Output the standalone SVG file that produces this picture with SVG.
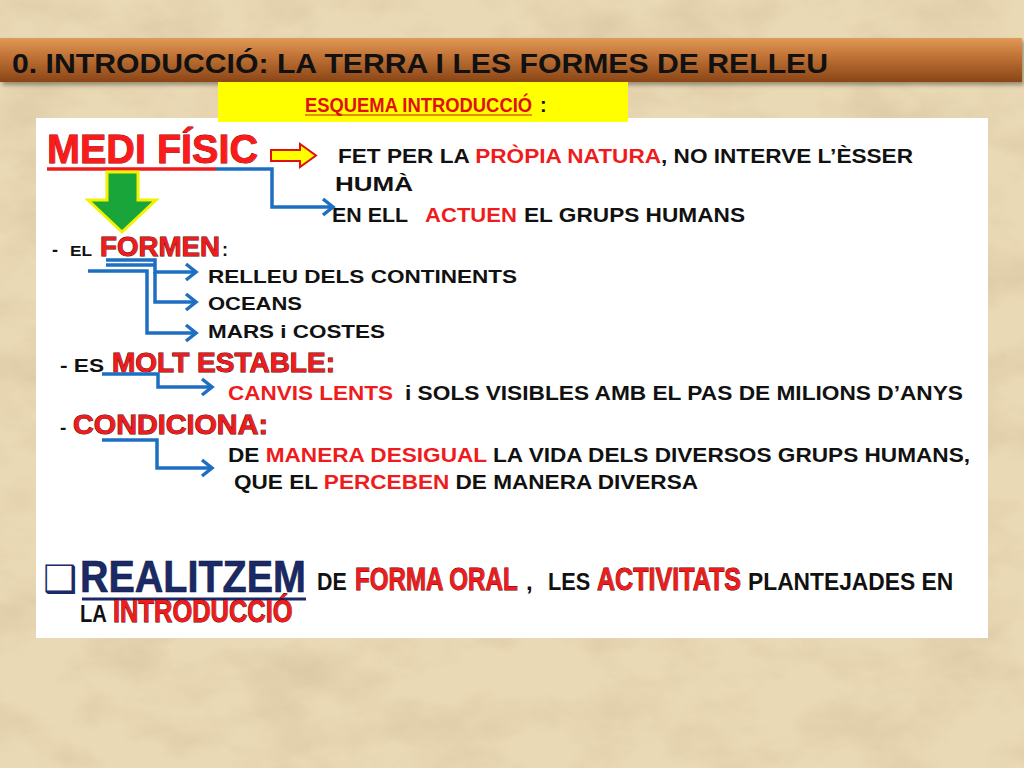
<svg xmlns="http://www.w3.org/2000/svg" width="1024" height="768" viewBox="0 0 1024 768">
<defs>
<style>
.b{font-family:"Liberation Sans",Arial,sans-serif;font-weight:bold;}
.k{fill:#111}
.r{fill:#ee1c1c}
.ro{fill:#ee1c1c;stroke:#4a0000;stroke-width:0.9;paint-order:stroke}
.n{fill:#1b2a66}
.conn{fill:none;stroke:#1e6fc2;stroke-width:3.5;stroke-linejoin:miter}
</style>
<linearGradient id="bar" x1="0" y1="0" x2="0" y2="1">
<stop offset="0" stop-color="#e09a58"/>
<stop offset="0.35" stop-color="#c6783a"/>
<stop offset="1" stop-color="#8a4516"/>
</linearGradient>
<filter id="paper" x="0" y="0" width="100%" height="100%">
<feTurbulence type="fractalNoise" baseFrequency="0.012 0.02" numOctaves="5" seed="7"/>
<feColorMatrix type="matrix" values="0 0 0 0 0.62  0 0 0 0 0.49  0 0 0 0 0.30  1.8 0 0 0 -0.75"/>
</filter>
<filter id="sh" x="-5%" y="-20%" width="110%" height="150%">
<feDropShadow dx="2" dy="3" stdDeviation="2" flood-color="#000" flood-opacity="0.35"/>
</filter>
<marker id="ah" markerUnits="userSpaceOnUse" markerWidth="16" markerHeight="18" refX="12" refY="9" orient="auto" overflow="visible">
<path d="M2,1 L12,9 L2,17" fill="none" stroke="#1e6fc2" stroke-width="3.5"/>
</marker>
</defs>

<!-- background -->
<rect x="0" y="0" width="1024" height="768" fill="#ead9b5"/>
<rect x="0" y="0" width="1024" height="768" filter="url(#paper)" opacity="0.55"/>

<!-- title bar -->
<g id="title">
<rect x="0" y="38" width="1022" height="44" fill="url(#bar)" filter="url(#sh)"/>
<text class="b k" x="12" y="73" font-size="28" textLength="816" lengthAdjust="spacingAndGlyphs">0. INTRODUCCIÓ: LA TERRA I LES FORMES DE RELLEU</text>
</g>

<!-- white panel -->
<rect x="36" y="118" width="952" height="520" fill="#ffffff"/>

<!-- yellow label -->
<g id="esquema">
<rect x="218" y="82" width="410" height="40" fill="#ffff00"/>
<text class="b" transform="translate(305,112) scale(0.87,1)" font-size="21" fill="#e01010" textLength="261" lengthAdjust="spacingAndGlyphs">ESQUEMA INTRODUCCIÓ</text>
<line x1="305" y1="115" x2="532" y2="115" stroke="#e01010" stroke-width="1.2"/>
<text class="b k" x="540" y="112" font-size="20">:</text>
</g>

<!-- MEDI FISIC -->
<g id="medi-fisic">
<text class="b" x="47" y="163" font-size="40" fill="#ff1a1a" stroke="#7a0000" stroke-width="0.8" paint-order="stroke" textLength="211" lengthAdjust="spacingAndGlyphs">MEDI FÍSIC</text>
<line x1="47" y1="169" x2="216" y2="169" stroke="#ee1c1c" stroke-width="3.5"/>
</g>

<g id="yellow-arrow">
<polygon points="271,150 300,150 300,144 316,155.5 300,167 300,161 271,161" fill="#ffff00" stroke="#e01010" stroke-width="2"/>
</g>

<g id="green-arrow">
<polygon points="107,172 138,172 138,200 156,200 122,232 88,200 107,200" fill="#1aa53a" stroke="#f2f200" stroke-width="3"/>
</g>

<g id="fet-per">
<text class="b k" x="338" y="163" font-size="20" textLength="575" lengthAdjust="spacingAndGlyphs">FET PER LA <tspan class="r">PRÒPIA NATURA</tspan>, NO INTERVE L’ÈSSER</text>
<text class="b k" x="335" y="191" font-size="20" textLength="78" lengthAdjust="spacingAndGlyphs">HUMÀ</text>
</g>

<g id="actuen">
<text class="b k" x="332" y="222" font-size="20" textLength="76" lengthAdjust="spacingAndGlyphs">EN ELL</text>
<text class="b r" x="425" y="222" font-size="20" textLength="92" lengthAdjust="spacingAndGlyphs">ACTUEN</text>
<text class="b k" x="524" y="222" font-size="20" textLength="221" lengthAdjust="spacingAndGlyphs">EL GRUPS HUMANS</text>
</g>

<g id="formen">
<text class="b k" x="52" y="256" font-size="18">-</text>
<text class="b k" x="70" y="256" font-size="15" textLength="22" lengthAdjust="spacingAndGlyphs">EL</text>
<text class="b ro" x="100" y="256" font-size="28" textLength="120" lengthAdjust="spacingAndGlyphs">FORMEN</text>
<text class="b k" x="222" y="256" font-size="18">:</text>
</g>

<g id="relleu"><text class="b k" x="208" y="283" font-size="19" textLength="309" lengthAdjust="spacingAndGlyphs">RELLEU DELS CONTINENTS</text></g>
<g id="oceans"><text class="b k" x="208" y="310" font-size="19" textLength="94" lengthAdjust="spacingAndGlyphs">OCEANS</text></g>
<g id="mars"><text class="b k" x="208" y="338" font-size="19" textLength="177" lengthAdjust="spacingAndGlyphs">MARS i COSTES</text></g>

<g id="estable">
<text class="b k" x="60" y="372" font-size="19" textLength="44" lengthAdjust="spacingAndGlyphs">- ES</text>
<text class="b ro" x="112" y="372" font-size="27" textLength="223" lengthAdjust="spacingAndGlyphs">MOLT ESTABLE:</text>
</g>

<g id="canvis">
<text class="b r" x="228" y="400" font-size="20" textLength="165" lengthAdjust="spacingAndGlyphs">CANVIS LENTS</text>
<text class="b k" x="405" y="400" font-size="20" textLength="558" lengthAdjust="spacingAndGlyphs">i SOLS VISIBLES AMB EL PAS DE MILIONS D’ANYS</text>
</g>

<g id="condiciona">
<text class="b k" x="60" y="434" font-size="19">-</text>
<text class="b ro" x="73" y="434" font-size="27" textLength="195" lengthAdjust="spacingAndGlyphs">CONDICIONA:</text>
</g>

<g id="desigual">
<text class="b k" x="228" y="462" font-size="20" textLength="742" lengthAdjust="spacingAndGlyphs">DE <tspan class="r">MANERA DESIGUAL</tspan> LA VIDA DELS DIVERSOS GRUPS HUMANS,</text>
<text class="b k" x="234" y="489" font-size="20" textLength="464" lengthAdjust="spacingAndGlyphs">QUE EL <tspan class="r">PERCEBEN</tspan> DE MANERA DIVERSA</text>
</g>

<g id="realitzem">
<text x="43" y="592" font-family="DejaVu Sans, sans-serif" font-size="38" fill="#1b2a66">❑</text>
<text class="b n" transform="translate(80,592) scale(0.9,1)" font-size="44" textLength="251" lengthAdjust="spacingAndGlyphs" stroke="#0d163d" stroke-width="0.6">REALITZEM</text>
<line x1="82" y1="599" x2="306" y2="599" stroke="#1b2a66" stroke-width="3"/>
<text class="b k" transform="translate(317,590) scale(0.9,1)" font-size="24" textLength="33" lengthAdjust="spacingAndGlyphs">DE</text>
<text class="b ro" transform="translate(355,590) scale(0.75,1)" font-size="32" textLength="217" lengthAdjust="spacingAndGlyphs">FORMA ORAL</text>
<text class="b k" x="526" y="590" font-size="24">,</text>
<text class="b k" transform="translate(548,590) scale(0.9,1)" font-size="24" textLength="47" lengthAdjust="spacingAndGlyphs">LES</text>
<text class="b ro" transform="translate(597,590) scale(0.766,1)" font-size="32" textLength="188" lengthAdjust="spacingAndGlyphs">ACTIVITATS</text>
<text class="b k" transform="translate(748,590) scale(0.95,1)" font-size="24" textLength="216" lengthAdjust="spacingAndGlyphs">PLANTEJADES EN</text>
<text class="b k" transform="translate(80,622) scale(0.84,1)" font-size="24" textLength="32" lengthAdjust="spacingAndGlyphs">LA</text>
<text class="b ro" transform="translate(113,622) scale(0.82,1)" font-size="31" textLength="219" lengthAdjust="spacingAndGlyphs">INTRODUCCIÓ</text>
</g>

<!-- connectors -->
<g id="connectors">
<path class="conn" d="M216,169 H272 V207 H333" marker-end="url(#ah)"/>
<path class="conn" d="M106,260 H155 V272 H196" marker-end="url(#ah)"/>
<path class="conn" d="M106,265 H155"/>
<path class="conn" d="M155,272 V302 H196" marker-end="url(#ah)"/>
<path class="conn" d="M88,271 H147 V333 H196" marker-end="url(#ah)"/>
<path class="conn" d="M102,374 H158 V387 H212" marker-end="url(#ah)"/>
<path class="conn" d="M102,440 H157 V468 H212" marker-end="url(#ah)"/>
</g>
</svg>
